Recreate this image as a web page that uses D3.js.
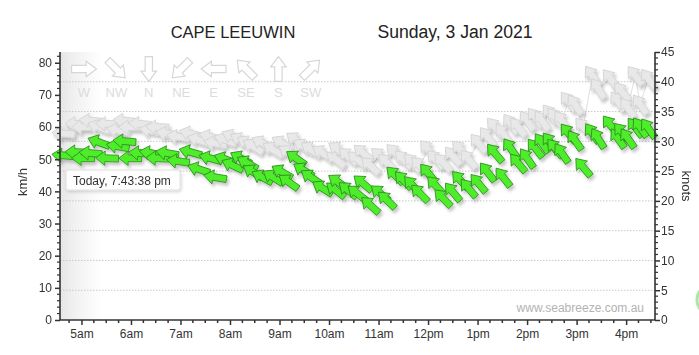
<!DOCTYPE html>
<html><head><meta charset="utf-8">
<script src="https://cdn.jsdelivr.net/npm/d3@7"></script>
<style>
html,body{margin:0;padding:0;background:#fff;}
svg{display:block;font-family:"Liberation Sans",Arial,sans-serif;}
</style></head>
<body>
<svg id="chart" width="699" height="355"></svg>
<script>
// ---------- DATA ----------
const stationName = "CAPE LEEUWIN";
const dateLabel = "Sunday, 3 Jan 2021";
const times = ["04:38","04:54","05:02","05:11","05:21","05:31","05:44","05:52","05:59","06:11",
  "06:24","06:32","06:44","06:57","07:12","07:22","07:36","07:42","07:54","08:03",
  "08:13","08:21","08:28","08:39","08:52","09:03","09:11","09:20","09:29","09:38",
  "09:52","10:08","10:11","10:23","10:34","10:41","10:50","11:02","11:10","11:20",
  "11:30","11:41","11:50","12:00","12:09","12:18","12:30","12:39","12:49","13:01",
  "13:12","13:21","13:31","13:40","13:49","14:00","14:10","14:18","14:28","14:34",
  "14:42","14:50","14:58","15:08","15:19","15:26","15:41","15:50","15:55","16:02",
  "16:11","16:17","16:27"];
const speeds = [51.2,52.2,50.3,51.9,55.3,50.3,54.0,55.6,50.3,51.9,
  51.9,50.3,51.9,49.4,52.2,46.9,50.3,44.4,50.0,48.1,
  50.3,48.8,46.0,44.4,44.4,46.0,42.9,50.3,46.6,44.4,
  41.0,40.4,42.9,40.4,39.4,42.5,35.7,39.4,37.3,45.0,
  43.5,41.9,39.4,45.7,41.9,37.9,39.8,43.5,41.0,42.5,
  46.0,51.9,44.4,53.4,48.8,50.3,53.4,55.0,55.3,53.4,
  51.9,58.1,55.9,47.5,58.1,56.5,60.6,56.5,58.4,56.5,
  59.9,59.9,59.6];
const gusts = [58,61,60,62,60,61,59,62,60,61,
  59,60,58,57,58,56,57,55,56,57,
  56,55,54,55,53,55,52,56,54,53,
  52,50,53,51,50,52,48,51,49,52,
  50,49,48,53,50,49,51,53,50,55,
  57,60,58,61,60,62,63,62,64,63,
  62,68,67,60,76,72,75,68,71,66,
  76,67,75];
const directions = [95,92,90,95,110,92,100,95,90,95,
  100,92,100,98,105,108,105,100,110,115,
  118,120,122,118,122,120,125,125,122,124,
  122,128,125,130,128,130,132,130,134,135,
  136,138,135,140,138,136,140,138,140,140,
  142,140,142,145,140,145,142,145,143,140,
  145,142,145,140,145,148,142,145,140,145,
  142,145,145];
const kmhTicks = [0,10,20,30,40,50,60,70,80];
const knotTicks = [0,5,10,15,20,25,30,35,40,45];
const hourTicks = ["05:00","06:00","07:00","08:00","09:00","10:00","11:00","12:00","13:00","14:00","15:00","16:00"];
const hourLabels = ["5am","6am","7am","8am","9am","10am","11am","12pm","1pm","2pm","3pm","4pm"];
const compassLabels = ["W","NW","N","NE","E","SE","S","SW"];
const compassDirs = [270,315,0,45,90,135,180,225];
const tooltipText = "Today, 7:43:38 pm";
const watermark = "www.seabreeze.com.au";

// ---------- SETUP ----------
const svg = d3.select("#chart");
const L = 60, R = 655, T = 52, B = 320;
const day = t => { const [h,m] = t.split(":").map(Number); return new Date(2021,0,3,h,m); };
const x = d3.scaleTime().domain([new Date(2021,0,3,4,34), new Date(2021,0,3,16,35)]).range([L,R]);
const KN = 1.852;
const y = d3.scaleLinear().domain([0, 45*KN]).range([B,T]);
const yk = d3.scaleLinear().domain([0,45]).range([B,T]);

const defs = svg.append("defs");
const grad = defs.append("linearGradient").attr("id","lg").attr("x1","0").attr("x2","1");
grad.append("stop").attr("offset","0").attr("stop-color","#e6e6e6");
grad.append("stop").attr("offset","0.35").attr("stop-color","#f1f1f1");
grad.append("stop").attr("offset","1").attr("stop-color","#ffffff");
const f = defs.append("filter").attr("id","sh").attr("x","-50%").attr("y","-50%").attr("width","200%").attr("height","200%");
f.append("feDropShadow").attr("dx",2).attr("dy",3).attr("stdDeviation",1.8).attr("flood-color","#000").attr("flood-opacity",0.22);
const f2 = defs.append("filter").attr("id","sh2").attr("x","-20%").attr("y","-40%").attr("width","140%").attr("height","180%");
f2.append("feDropShadow").attr("dx",1).attr("dy",1.5).attr("stdDeviation",1.5).attr("flood-color","#000").attr("flood-opacity",0.18);

// left shaded band
svg.append("rect").attr("x",L).attr("y",T).attr("width",42).attr("height",B-T).attr("fill","url(#lg)");

// title
svg.append("text").attr("x",233).attr("y",38).attr("text-anchor","middle").attr("font-size",16.5).attr("fill","#222").text(stationName);
svg.append("text").attr("x",455).attr("y",38).attr("text-anchor","middle").attr("font-size",17.6).attr("fill","#222").text(dateLabel);

// gridlines at knot multiples
svg.append("g").selectAll("line").data(knotTicks.filter(k=>k>0&&k<45)).join("line")
  .attr("x1",L).attr("x2",R).attr("y1",d=>yk(d)).attr("y2",d=>yk(d))
  .attr("stroke","#c8c8c8").attr("stroke-width",1).attr("stroke-dasharray","1.5,1.5");

// arrow path
const arrowPath = "M-11.5,-3.4 L2,-3.4 L2,-7.2 L11.5,0 L2,7.2 L2,3.4 L-11.5,3.4 Z";
const rot = d => d + 90; // from-direction -> screen rotation (pointing downwind)

// compass legend
const cg = svg.append("g");
compassLabels.forEach((lab,i)=>{
  const cx = 84 + i*32.4;
  cg.append("path").attr("d",arrowPath)
    .attr("transform",`translate(${cx},69) rotate(${rot(compassDirs[i])}) scale(1.08)`)
    .attr("fill","#fff").attr("stroke","#d6d6d6").attr("stroke-width",1.1);
  cg.append("text").attr("x",cx).attr("y",97).attr("text-anchor","middle")
    .attr("font-size",13).attr("fill","#dcdcdc").text(lab);
});

const pts = times.map((t,i)=>({t:day(t), s:speeds[i], g:gusts[i], d:directions[i]}));

// gust connecting line
svg.append("path").datum(pts)
  .attr("d", d3.line().x(p=>x(p.t)).y(p=>y(p.g)))
  .attr("fill","none").attr("stroke","#e0e0e0").attr("stroke-width",1);

// gust arrows
svg.append("g").attr("filter","url(#sh)").selectAll("path").data(pts).join("path")
  .attr("d",arrowPath)
  .attr("transform",p=>`translate(${x(p.t)},${y(p.g)}) rotate(${rot(p.d)})`)
  .attr("fill","#e8e8e8").attr("stroke","#d2d2d2").attr("stroke-width",0.8);

// speed arrows
svg.append("g").attr("filter","url(#sh)").selectAll("path").data(pts).join("path")
  .attr("d",arrowPath)
  .attr("transform",p=>`translate(${x(p.t)},${y(p.s)}) rotate(${rot(p.d)})`)
  .attr("fill","#4ded2c").attr("stroke","#2e8a1e").attr("stroke-width",0.8);

// axes
const axisColor = "#333";
const xAxis = d3.axisBottom(x).tickValues(hourTicks.map(day))
  .tickFormat((d,i)=>hourLabels[i]).tickSize(5).tickPadding(4);
const gx = svg.append("g").attr("transform",`translate(0,${B})`).call(xAxis);
const minorX = d3.timeMinute.every(15).range(x.domain()[0], x.domain()[1]).filter(d=>d.getMinutes()!==0);
gx.selectAll(".minor").data(minorX).join("line").attr("class","minor")
  .attr("x1",d=>x(d)).attr("x2",d=>x(d)).attr("y1",0).attr("y2",3).attr("stroke",axisColor).attr("stroke-width",1.5);

const yAxis = d3.axisLeft(y).tickValues(kmhTicks).tickSize(5).tickPadding(3);
const gy = svg.append("g").attr("transform",`translate(${L},0)`).call(yAxis);
gy.selectAll(".minor").data(d3.range(0,83,2).filter(v=>v%10!==0)).join("line").attr("class","minor")
  .attr("x1",0).attr("x2",-3).attr("y1",d=>y(d)).attr("y2",d=>y(d)).attr("stroke",axisColor).attr("stroke-width",1.2);

const ykAxis = d3.axisRight(yk).tickValues(knotTicks).tickSize(5).tickPadding(1);
const gk = svg.append("g").attr("transform",`translate(${R},0)`).call(ykAxis);
gk.selectAll(".minor").data(d3.range(0,46,1).filter(v=>v%5!==0)).join("line").attr("class","minor")
  .attr("x1",0).attr("x2",3).attr("y1",d=>yk(d)).attr("y2",d=>yk(d)).attr("stroke",axisColor).attr("stroke-width",1.2);

[gx,gy,gk].forEach(g=>{
  g.select(".domain").attr("stroke",axisColor).attr("stroke-width",1.6);
  g.selectAll(".tick line").attr("stroke",axisColor).attr("stroke-width",1.5);
  g.selectAll("text").attr("font-family","Liberation Sans, Arial, sans-serif").attr("font-size",12).attr("fill","#333");
});
gx.select(".domain").attr("d",`M${L},0H${R}`);
gy.select(".domain").attr("d",`M0,${B}V${T}`);
gk.select(".domain").attr("d",`M0,${B}V${T}`);

// axis titles
svg.append("text").attr("transform","translate(27,182) rotate(-90)").attr("text-anchor","middle")
  .attr("font-size",13).attr("fill","#333").text("km/h");
svg.append("text").attr("transform","translate(682,186) rotate(90)").attr("text-anchor","middle")
  .attr("font-size",13).attr("fill","#333").text("knots");

// watermark
svg.append("text").attr("x",644).attr("y",312).attr("text-anchor","end")
  .attr("font-size",12).attr("fill","#b3b3b3").text(watermark);

// tooltip
svg.append("rect").attr("x",66).attr("y",170).attr("width",114).attr("height",20).attr("rx",2)
  .attr("fill","#fff").attr("fill-opacity",0.92).attr("stroke","#e0e0e0").attr("filter","url(#sh2)");
svg.append("text").attr("x",73).attr("y",184.5).attr("font-size",12).attr("fill","#333").text(tooltipText);

// partially visible control at right edge
svg.append("circle").attr("cx",712).attr("cy",300).attr("r",15).attr("fill","none")
  .attr("stroke","#a8e8a0").attr("stroke-width",3);
</script>
</body></html>
